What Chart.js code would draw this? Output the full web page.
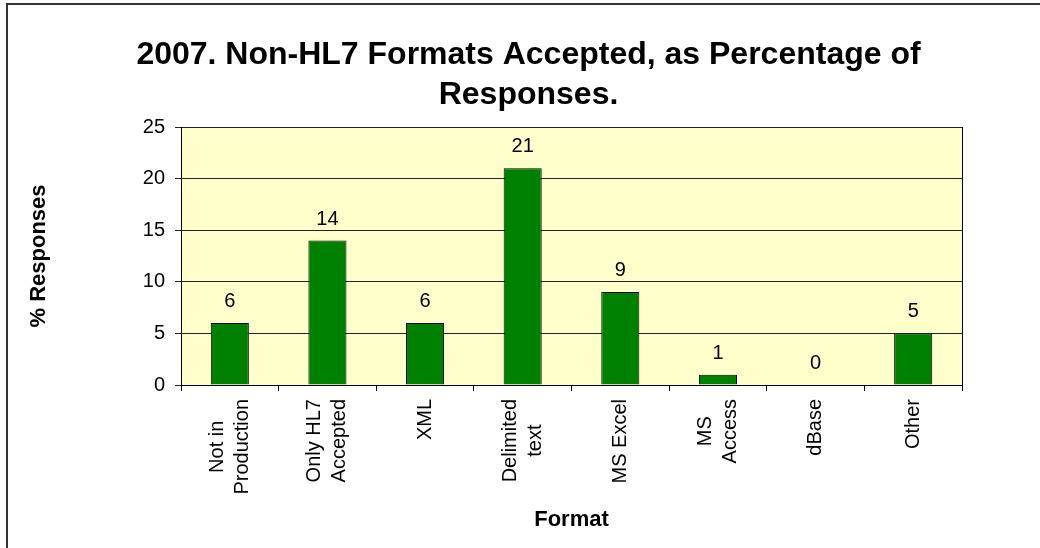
<!DOCTYPE html>
<html>
<head>
<meta charset="utf-8">
<script src="https://cdn.jsdelivr.net/npm/chart.js@4.4.1/dist/chart.umd.min.js"></script>
<style>
  html, body { margin: 0; padding: 0; background: #fff; }
  #wrap { width: 1040px; height: 548px; }
</style>
</head>
<body>
<div id="wrap"><canvas id="bar_chart" width="1040" height="548"></canvas></div>
<script>
var categories = [
    ["Not in", "Production"],
    ["Only HL7", "Accepted"],
    ["XML"],
    ["Delimited", "text"],
    ["MS Excel"],
    ["MS", "Access"],
    ["dBase"],
    ["Other"]
];
var responses = [6, 14, 6, 21, 9, 1, 0, 5];
var yTicks = [0, 5, 10, 15, 20, 25];
var titleLines = ["2007. Non-HL7 Formats Accepted, as Percentage of", "Responses."];

var FONT = "'Liberation Sans', Arial, sans-serif";

// plot background, outer frame and right edge of the plot
var framePlugin = {
    id: 'frame',
    beforeDraw: function (chart) {
        var ctx = chart.ctx, a = chart.chartArea;
        ctx.save();
        ctx.fillStyle = '#ffffff';
        ctx.fillRect(0, 0, chart.width, chart.height);
        ctx.strokeStyle = '#333333';
        ctx.lineWidth = 2;
        ctx.strokeRect(7, 4, chart.width + 20, chart.height + 20);
        ctx.fillStyle = '#FFFFCC';
        ctx.fillRect(a.left, a.top, a.right - a.left, a.bottom - a.top);
        ctx.restore();
    },
    afterDraw: function (chart) {
        var ctx = chart.ctx, a = chart.chartArea;
        ctx.save();
        ctx.strokeStyle = '#000';
        ctx.lineWidth = 1;
        ctx.beginPath();
        ctx.moveTo(Math.round(a.right) + 0.5, a.top);
        ctx.lineTo(Math.round(a.right) + 0.5, a.bottom);
        ctx.stroke();
        ctx.restore();
    }
};

// value labels above the bars
var valuePlugin = {
    id: 'values',
    afterDatasetsDraw: function (chart) {
        var ctx = chart.ctx;
        var meta = chart.getDatasetMeta(0);
        ctx.save();
        ctx.font = '20px ' + FONT;
        ctx.fillStyle = '#000';
        ctx.textAlign = 'center';
        ctx.textBaseline = 'alphabetic';
        meta.data.forEach(function (bar, i) {
            ctx.fillText(String(responses[i]), bar.x, bar.y - 16);
        });
        ctx.restore();
    }
};

// vertical category labels, lines centred on each other
var xLabelPlugin = {
    id: 'xlabels',
    afterDraw: function (chart) {
        var ctx = chart.ctx;
        var xs = chart.scales.x;
        var lh = 25;
        ctx.save();
        ctx.font = '20px ' + FONT;
        ctx.fillStyle = '#000';
        ctx.textAlign = 'center';
        ctx.textBaseline = 'middle';
        categories.forEach(function (lines, i) {
            var cx = xs.getPixelForTick(i);
            var maxW = 0;
            lines.forEach(function (t) { maxW = Math.max(maxW, ctx.measureText(t).width); });
            ctx.save();
            ctx.translate(cx, xs.top + 14);
            ctx.rotate(-Math.PI / 2);
            lines.forEach(function (t, j) {
                ctx.fillText(t, -maxW / 2, (j - (lines.length - 1) / 2) * lh);
            });
            ctx.restore();
        });
        ctx.restore();
    }
};

new Chart(document.getElementById("bar_chart").getContext("2d"), {
    type: 'bar',
    data: {
        labels: categories,
        datasets: [{
            label: "% Responses",
            data: responses,
            backgroundColor: '#008000',
            borderColor: '#000000',
            borderWidth: 1,
            barPercentage: 0.39,
            categoryPercentage: 1.0
        }]
    },
    options: {
        responsive: false,
        animation: false,
        layout: { padding: { left: 17, right: 0, top: 0, bottom: 0 } },
        plugins: {
            legend: { display: false },
            tooltip: { enabled: false },
            title: {
                display: true,
                text: titleLines,
                color: '#000',
                font: { family: FONT, size: 32, weight: 'bold', lineHeight: 1.25 },
                padding: { top: 35, bottom: 12 }
            }
        },
        scales: {
            x: {
                offset: true,
                grid: {
                    offset: true,
                    drawOnChartArea: false,
                    drawTicks: true,
                    tickLength: 6,
                    color: '#000'
                },
                border: { display: true, color: '#000', width: 1 },
                ticks: { display: false },
                title: {
                    display: true,
                    text: 'Format',
                    color: '#000',
                    font: { family: FONT, size: 22, weight: 'bold', lineHeight: 1.2 },
                    padding: { top: 0, bottom: 15 }
                },
                afterFit: function (s) { s.height = 163; }
            },
            y: {
                min: 0,
                max: 25,
                afterBuildTicks: function (s) {
                    s.ticks = yTicks.map(function (v) { return { value: v }; });
                },
                grid: {
                    color: '#222',
                    lineWidth: 1,
                    drawTicks: true,
                    tickLength: 6
                },
                border: { display: true, color: '#000', width: 1 },
                ticks: {
                    color: '#000',
                    padding: 10,
                    font: { family: FONT, size: 20 }
                },
                title: {
                    display: true,
                    text: '% Responses',
                    color: '#000',
                    font: { family: FONT, size: 22, weight: 'bold', lineHeight: 1.2 },
                    padding: { top: 9, bottom: 0 }
                },
                afterFit: function (s) { s.width = 164; }
            },
            y2: {
                position: 'right',
                display: true,
                grid: { display: false, drawTicks: false },
                border: { display: false },
                ticks: { display: false },
                afterFit: function (s) { s.width = 78; }
            }
        }
    },
    plugins: [framePlugin, valuePlugin, xLabelPlugin]
});
</script>
</body>
</html>
